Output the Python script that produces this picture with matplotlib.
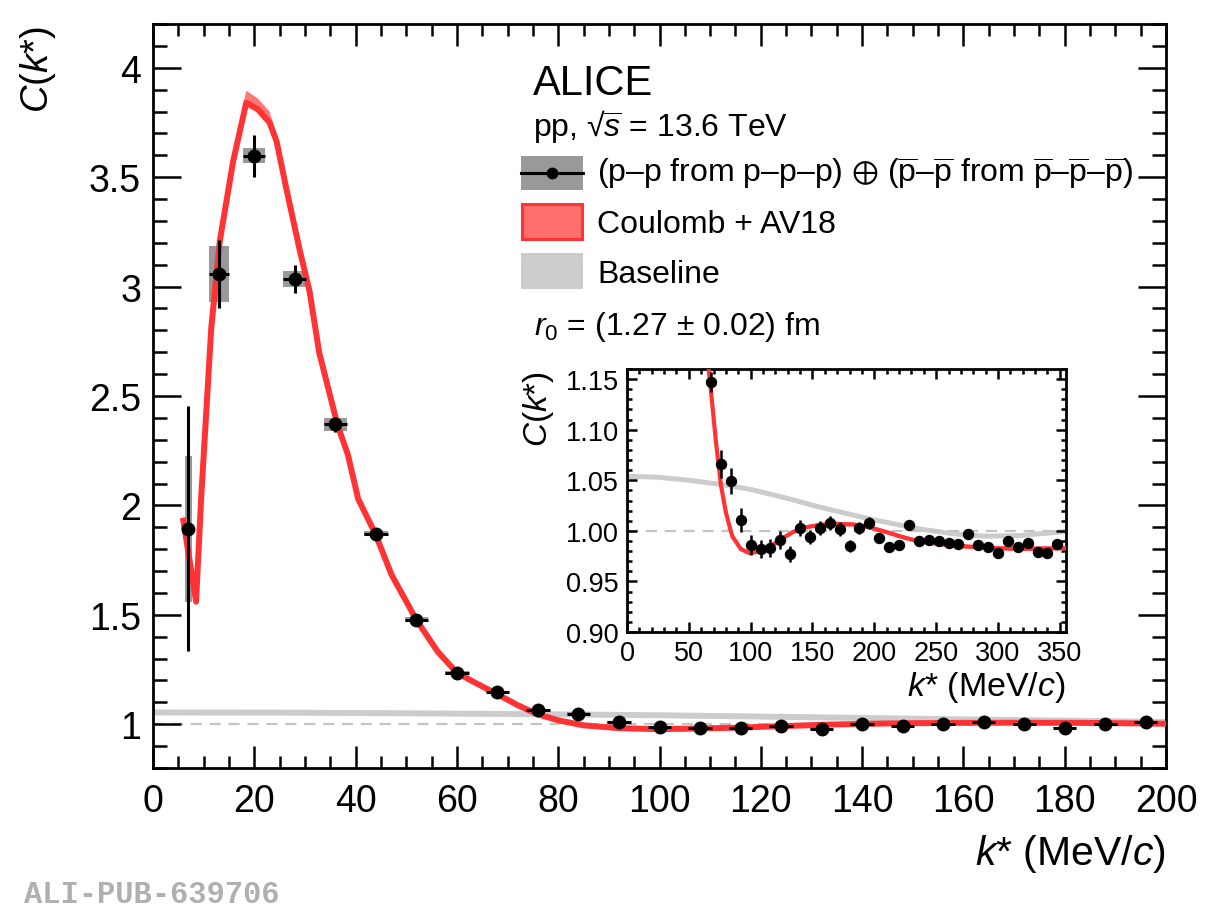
#!/usr/bin/env python3

import numpy as np
import matplotlib
matplotlib.use('Agg')
import matplotlib.pyplot as plt
from matplotlib.patches import Rectangle
from matplotlib.ticker import MultipleLocator, FormatStrFormatter, FuncFormatter

plt.rcParams['font.family'] = ['Liberation Sans', 'DejaVu Sans']
plt.rcParams['mathtext.fontset'] = 'custom'
plt.rcParams['mathtext.rm'] = 'Liberation Sans'
plt.rcParams['mathtext.it'] = 'Liberation Sans:italic'
plt.rcParams['mathtext.bf'] = 'Liberation Sans:bold'
plt.rcParams['mathtext.fallback'] = 'stixsans'

### data ###

kstar = [7, 13, 20, 28, 36, 44, 52, 60, 68, 76, 84, 92, 100, 108, 116, 124,
         132, 140, 148, 156, 164, 172, 180, 188, 196, 204, 212, 220, 228, 236,
         244, 252, 260, 268, 276, 284, 292, 300, 308, 316, 324, 332, 340, 348]
cf = [1.893, 3.058, 3.598, 3.035, 2.370, 1.870, 1.478, 1.233, 1.147, 1.066,
      1.049, 1.011, 0.986, 0.982, 0.983, 0.991, 0.977, 1.003, 0.994, 1.003,
      1.008, 1.002, 0.985, 1.003, 1.008, 0.993, 0.984, 0.986, 1.006, 0.990,
      0.991, 0.990, 0.988, 0.987, 0.997, 0.986, 0.984, 0.978, 0.990, 0.984,
      0.988, 0.979, 0.978, 0.987]
cf_stat = [0.56, 0.155, 0.095, 0.063, 0.035, 0.020, 0.015, 0.012, 0.010, 0.014,
           0.013, 0.012, 0.010, 0.009, 0.009, 0.009, 0.008, 0.008, 0.007, 0.007,
           0.007, 0.007, 0.006, 0.006, 0.006, 0.005, 0.005, 0.005, 0.005, 0.004,
           0.004, 0.004, 0.004, 0.004, 0.004, 0.003, 0.003, 0.003, 0.003, 0.003,
           0.003, 0.003, 0.003, 0.003]
cf_syst = [0.333, 0.127, 0.035, 0.035, 0.030, 0.012, 0.010, 0.008, 0.006, 0.005,
           0.005, 0.004, 0.004, 0.004, 0.004, 0.004, 0.004, 0.004, 0.003, 0.003,
           0.003, 0.003, 0.003, 0.003, 0.003, 0.003, 0.003, 0.003, 0.003, 0.003,
           0.003, 0.003, 0.003, 0.003, 0.003, 0.003, 0.003, 0.003, 0.003, 0.003,
           0.003, 0.003, 0.003, 0.003]
k_err = [0.7, 2.0, 2.2, 2.3, 2.3, 2.3, 2.3, 2.3, 2.3, 2.3, 2.3, 2.3, 2.3, 2.3,
         2.3, 2.3, 2.3, 2.3, 2.3, 2.3, 2.3, 2.3, 2.3, 2.3, 2.3, 2.3, 2.3, 2.3,
         2.3, 2.3, 2.3, 2.3, 2.3, 2.3, 2.3, 2.3, 2.3, 2.3, 2.3, 2.3, 2.3, 2.3,
         2.3, 2.3]

# Coulomb + AV18 model curve and its band
model_k = [6.0, 8.5, 9.5, 11.5, 13.2, 15.8, 18.4, 20.7, 23.0, 24.4, 26.3,
           29.0, 30.9, 32.8, 36.4, 38.5, 40.5, 43.9, 47.1, 52.0, 56.2, 60.0,
           64.0, 68.0, 72.0, 76.0, 80.0, 85.0, 92.0, 99.0, 104.0, 115.0, 123.0,
           134.0, 145.0, 156.0, 169.0, 183.0, 196.0, 210.0, 223.0, 236.0,
           263.0, 290.0, 318.0, 355.0]
model_c = [1.93, 1.56, 2.03, 2.81, 3.21, 3.57, 3.84, 3.81, 3.75, 3.664, 3.45,
           3.163, 2.98, 2.70, 2.37, 2.23, 2.03, 1.87, 1.683, 1.477, 1.332,
           1.235, 1.185, 1.137, 1.087, 1.045, 1.018, 0.995, 0.982, 0.978,
           0.979, 0.984, 0.9905, 0.9987, 1.0036, 1.0059, 1.0069, 1.0063,
           1.0036, 0.9987, 0.9938, 0.9895, 0.9855, 0.9832, 0.9822, 0.9829]
model_up = [0.03, 0.03, 0.03, 0.03, 0.03, 0.03, 0.055, 0.05, 0.05, 0.035, 0.02,
            0.015, 0.012, 0.012, 0.010, 0.010, 0.008, 0.008, 0.006, 0.005,
            0.004, 0.004, 0.003, 0.003, 0.003, 0.002, 0.002, 0.002, 0.002,
            0.002, 0.002, 0.002, 0.002, 0.002, 0.002, 0.002, 0.002, 0.002,
            0.002, 0.002, 0.002, 0.002, 0.002, 0.002, 0.002, 0.002]
model_dn = [0.01, 0.01, 0.01, 0.01, 0.01, 0.01, 0.01, 0.01, 0.01, 0.01, 0.01,
            0.01, 0.01, 0.008, 0.008, 0.008, 0.006, 0.006, 0.005, 0.004, 0.004,
            0.003, 0.003, 0.003, 0.003, 0.002, 0.002, 0.002, 0.002, 0.002,
            0.002, 0.002, 0.002, 0.002, 0.002, 0.002, 0.002, 0.002, 0.002,
            0.002, 0.002, 0.002, 0.002, 0.002, 0.002, 0.002]

# baseline
base_k = [0, 25, 50, 75, 100, 130, 156, 196, 236, 264, 290, 318, 355]
base_c = [1.054, 1.053, 1.050, 1.046, 1.041, 1.032, 1.0234, 1.0118, 1.002,
          0.997, 0.9947, 0.9954, 0.9993]

RED = '#ff3333'
RED_BAND = '#ff7777'
SYST = '#999999'
BASE = '#cccccc'
DASH = '#c4c4c4'

W, H = 1214, 912
fig = plt.figure(figsize=(W/100, H/100), dpi=100)

def draw(ax, main=True):
    lw_fit = 4.3 if main else 3.0
    ax.plot(base_k, base_c, color=BASE, lw=4.3 if main else 3.6, zorder=1,
            solid_capstyle='butt')
    ax.axhline(1.0, color=DASH, lw=1.6, ls=(0, (5, 3.5)), zorder=1)
    if main:
        for k, c, ek, es in zip(kstar, cf, k_err, cf_syst):
            ax.add_patch(Rectangle((k-ek, c-es), 2*ek, 2*es, facecolor=SYST,
                                   edgecolor='none', zorder=2))
    mk = np.array(model_k)
    mc = np.array(model_c)
    ax.fill_between(mk, mc-np.array(model_dn), mc+np.array(model_up),
                    color=RED_BAND, lw=0, zorder=3)
    ax.plot(mk, mc, color=RED, lw=lw_fit, zorder=4)
    ax.errorbar(kstar, cf, yerr=cf_stat, xerr=k_err, fmt='o', color='black',
                ms=9 if main else 7.2, elinewidth=2.2 if main else 1.8,
                capsize=0, zorder=5)
    for s in ax.spines.values():
        s.set_linewidth(2.0)
    ax.tick_params(which='both', direction='in', top=True, right=True,
                   width=1.8, colors='black')

### main panel ###
ax = fig.add_axes([153/W, 1-769/H, (1166-153)/W, (769-25)/H])
draw(ax, True)
ax.set_xlim(0, 200)
ax.set_ylim(0.8, 4.2)
ax.xaxis.set_major_locator(MultipleLocator(20))
ax.xaxis.set_minor_locator(MultipleLocator(5))
ax.yaxis.set_major_locator(MultipleLocator(0.5))
ax.yaxis.set_minor_locator(MultipleLocator(0.1))
ax.yaxis.set_major_formatter(FuncFormatter(lambda v, p: '%g' % v))
ax.tick_params(axis='x', which='major', length=16, labelsize=27, pad=10.5)
ax.tick_params(axis='x', which='minor', length=8.5)
ax.tick_params(axis='y', which='major', length=20, labelsize=27, pad=8.6)
ax.tick_params(axis='y', which='minor', length=10)

### inset ###
ax2 = fig.add_axes([627/W, 1-633/H, (1066-627)/W, (633-370)/H])
draw(ax2, False)
ax2.set_xlim(0, 355)
ax2.set_ylim(0.9, 1.16)
ax2.xaxis.set_major_locator(MultipleLocator(50))
ax2.xaxis.set_minor_locator(MultipleLocator(10))
ax2.yaxis.set_major_locator(MultipleLocator(0.05))
ax2.yaxis.set_minor_locator(MultipleLocator(0.01))
ax2.yaxis.set_major_formatter(FormatStrFormatter('%.2f'))
ax2.tick_params(which='major', length=7, labelsize=19.5)
ax2.tick_params(which='minor', length=3.6)
ax2.tick_params(axis='x', pad=6)
ax2.tick_params(axis='y', pad=6)

### text and legend, in pixel coordinates of the figure ###
lay = fig.add_axes([0, 0, 1, 1], zorder=10)
lay.set_xlim(0, W)
lay.set_ylim(H, 0)
lay.axis('off')

lay.text(1166, 865, r'$k$* (MeV/$c$)', fontsize=29.5, ha='right', va='baseline')
lay.text(38, 26, r'$C$($k$*)', fontsize=27.5, ha='center', va='top', rotation=90)
lay.text(1066, 696, r'$k$* (MeV/$c$)', fontsize=24.5, ha='right', va='baseline')
lay.text(539, 371, r'$C$($k$*)', fontsize=24, ha='center', va='top', rotation=90)

lay.text(533, 95, 'ALICE', fontsize=30, va='baseline')
lay.text(533, 136, 'pp, \u221a' + r'$\overline{\mathit{s}}$' + ' = 13.6 TeV',
         fontsize=23, va='baseline')
lay.text(534, 335, r'$r_0$ = (1.27 $\pm$ 0.02) fm', fontsize=23, va='baseline')

pb = r'$\overline{\mathrm{p}}$'
lay.add_patch(Rectangle((521, 157), 62, 34, facecolor=SYST, edgecolor='none'))
lay.plot([521, 583], [174, 174], color='black', lw=2.2)
lay.plot([552], [174], 'o', color='black', ms=7.5)
lay.text(597, 183, '(p\u2013p from p\u2013p\u2013p) $\\oplus$ (' + pb + '\u2013' + pb +
         ' from ' + pb + '\u2013' + pb + '\u2013' + pb + ')',
         fontsize=23, va='baseline')

lay.add_patch(Rectangle((522, 205), 60, 35, facecolor='#ff6e6e',
                        edgecolor=RED, lw=2.2))
lay.text(597, 233, 'Coulomb + AV18', fontsize=23, va='baseline')

lay.add_patch(Rectangle((521, 254), 62, 36, facecolor=BASE, edgecolor='none'))
lay.text(597, 283, 'Baseline', fontsize=23, va='baseline')

lay.text(24, 903, 'ALI-PUB-639706', fontsize=22, family='Liberation Mono',
         weight='bold', color='#b0b0b0', va='baseline')

fig.savefig('out.png', dpi=100)
